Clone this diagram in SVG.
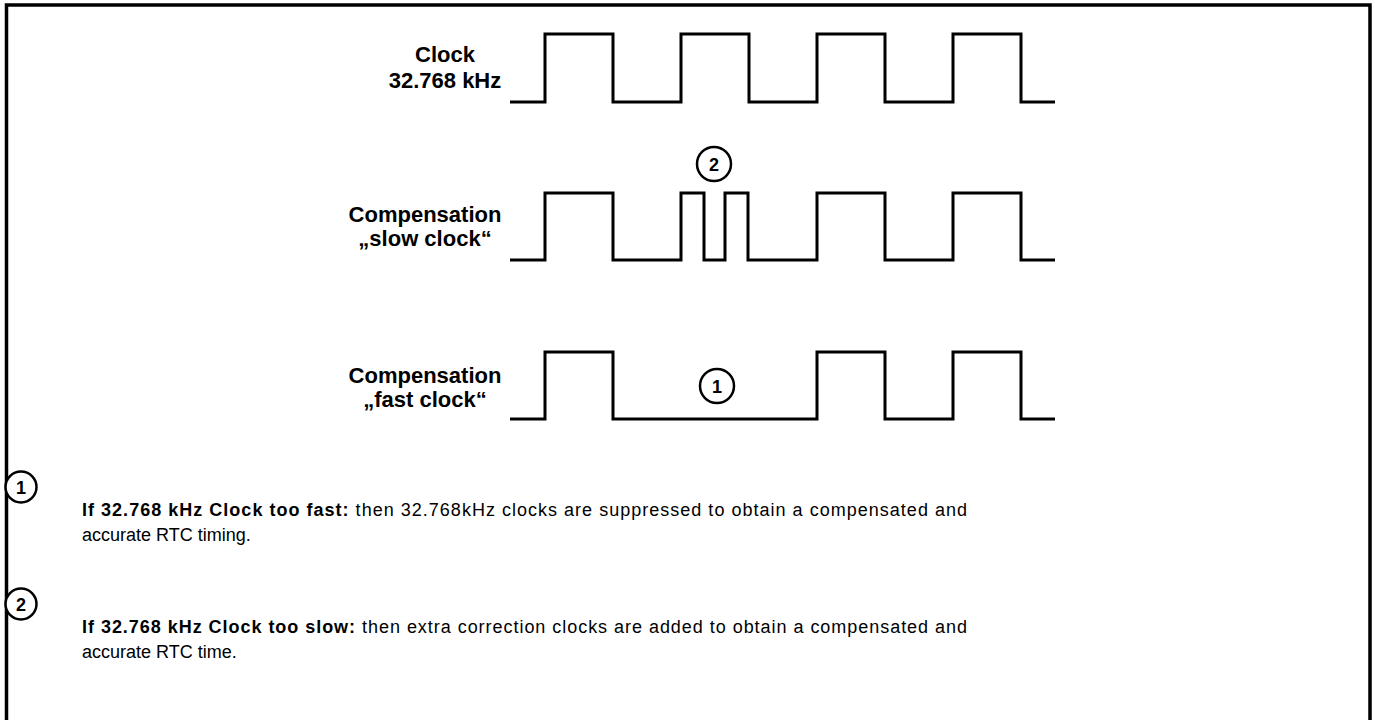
<svg xmlns="http://www.w3.org/2000/svg" width="1375" height="720" viewBox="0 0 1375 720">
<style>
.wave{fill:none;stroke:#000;stroke-width:3;stroke-linejoin:miter}
.lbl{font-family:"Liberation Sans",Arial,sans-serif;font-weight:bold;font-size:22px;fill:#000;text-anchor:middle}
.mark circle{fill:#fff;stroke:#000;stroke-width:2.5}
.mark text{font-family:"Liberation Sans",Arial,sans-serif;font-weight:bold;font-size:18px;fill:#000;text-anchor:middle}
.note{font-family:"Liberation Sans",Arial,sans-serif;font-size:18px;fill:#000}
.note .b{font-weight:bold}
</style>
<rect width="1375" height="720" fill="#fff"/>
<path d="M6.5,725 V5 H1370 V725" fill="none" stroke="#000" stroke-width="3.5"/>
<g id="row-clock">
<text class="lbl" x="445" y="62">Clock</text>
<text class="lbl" x="445" y="88">32.768 kHz</text>
<path class="wave" d="M510,102 H545 V34 H613 V102 H681 V34 H749 V102 H817 V34 H885 V102 H953 V34 H1021 V102 H1055"/>
</g>
<g id="row-slow">
<text class="lbl" x="425" y="222">Compensation</text>
<text class="lbl" x="425" y="246">„slow clock“</text>
<path class="wave" d="M510,260 H545 V193 H613 V260 H681 V193 H704 V260 H725 V193 H748 V260 H817 V193 H885 V260 H953 V193 H1021 V260 H1055"/>
</g>
<g id="row-fast">
<text class="lbl" x="425" y="383">Compensation</text>
<text class="lbl" x="425" y="407">„fast clock“</text>
<path class="wave" d="M510,419 H545 V352 H613 V419 H817 V352 H885 V419 H953 V352 H1021 V419 H1055"/>
</g>
<g id="mark-2" class="mark"><circle cx="714" cy="164" r="17"/><text x="714" y="170.5">2</text></g>
<g id="mark-1" class="mark"><circle cx="717" cy="386" r="17"/><text x="717" y="392.5">1</text></g>
<g id="note-1">
<g class="mark"><circle cx="21" cy="487" r="15.5"/><text x="21" y="493.5">1</text></g>
<text class="note" x="82" y="516" textLength="885" lengthAdjust="spacing"><tspan class="b">If 32.768 kHz Clock too fast:</tspan> then 32.768kHz clocks are suppressed to obtain a compensated and</text>
<text class="note" x="82" y="541">accurate RTC timing.</text>
</g>
<g id="note-2">
<g class="mark"><circle cx="21" cy="604" r="15.5"/><text x="21" y="610.5">2</text></g>
<text class="note" x="82" y="633" textLength="885" lengthAdjust="spacing"><tspan class="b">If 32.768 kHz Clock too slow:</tspan> then extra correction clocks are added to obtain a compensated and</text>
<text class="note" x="82" y="658">accurate RTC time.</text>
</g>
</svg>
